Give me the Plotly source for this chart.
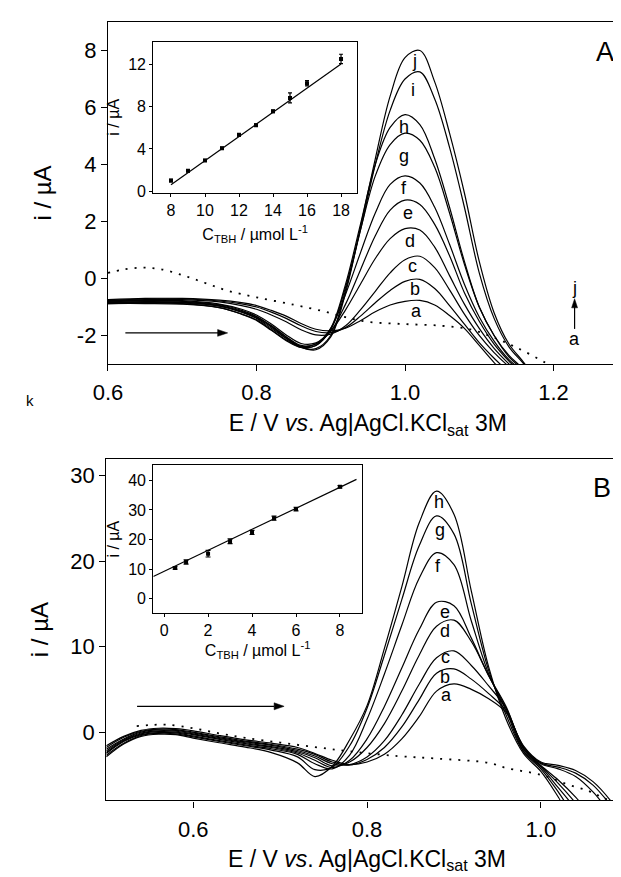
import plotly.graph_objects as go

# ---------------- Panel A data ----------------
XA = [0.60, 0.65, 0.70, 0.75, 0.78, 0.80, 0.82, 0.84, 0.86, 0.88, 0.90, 0.92, 0.94, 0.96, 0.98,
      1.00, 1.02, 1.04, 1.06, 1.08, 1.10, 1.12, 1.14, 1.16, 1.18, 1.20, 1.25, 1.28, 1.29, 1.30]
A_a = [-0.74, -0.70, -0.70, -0.76, -0.85, -0.95, -1.12, -1.32, -1.58, -1.78, -1.84, -1.74, -1.48, -1.17, -0.93,
       -0.80, -0.77, -0.93, -1.30, -1.75, -2.35, -2.95, -3.45, -4.0, -4.5, -5.0, -5.0, -4.4, -3.1, -1.9]
A_b = [-0.76, -0.72, -0.72, -0.79, -0.89, -1.00, -1.18, -1.40, -1.66, -1.86, -1.90, -1.72, -1.32, -0.85, -0.42,
       -0.10, -0.03, -0.35, -0.95, -1.60, -2.25, -2.80, -3.30, -3.9, -4.5, -5.0, -5.0, -4.4, -3.0, -1.8]
A_c = [-0.78, -0.74, -0.74, -0.82, -0.95, -1.08, -1.28, -1.52, -1.80, -1.98, -1.95, -1.66, -1.10, -0.45, 0.20,
       0.66, 0.78, 0.38, -0.40, -1.25, -2.00, -2.60, -3.10, -3.6, -4.3, -5.0, -5.0, -4.4, -3.0, -1.7]
A_d = [-0.80, -0.77, -0.78, -0.90, -1.08, -1.28, -1.60, -1.98, -2.28, -2.26, -1.85, -1.10, -0.20, 0.70, 1.40,
       1.75, 1.70, 1.10, 0.10, -0.90, -1.75, -2.45, -3.00, -3.5, -4.2, -5.0, -5.0, -4.4, -2.9, -1.6]
A_e = [-0.82, -0.79, -0.80, -0.92, -1.12, -1.33, -1.68, -2.05, -2.35, -2.30, -1.85, -0.90, 0.30, 1.50, 2.40,
       2.75, 2.60, 1.90, 0.80, -0.50, -1.50, -2.30, -2.90, -3.4, -4.1, -5.0, -5.0, -4.3, -2.9, -1.6]
A_f = [-0.84, -0.81, -0.83, -0.96, -1.18, -1.40, -1.75, -2.10, -2.38, -2.30, -1.75, -0.55, 0.90, 2.30, 3.30,
       3.60, 3.35, 2.50, 1.20, -0.20, -1.35, -2.20, -2.85, -3.3, -4.0, -5.0, -5.0, -4.3, -2.8, -1.5]
A_g = [-0.88, -0.86, -0.88, -1.02, -1.25, -1.47, -1.82, -2.18, -2.42, -2.35, -1.80, -0.30, 1.70, 3.60, 4.70,
       5.10, 4.85, 3.90, 2.30, 0.50, -1.00, -2.00, -2.75, -3.25, -4.0, -5.0, -5.0, -4.2, -2.8, -1.5]
A_h = [-0.88, -0.88, -0.90, -1.02, -1.25, -1.45, -1.80, -2.15, -2.40, -2.35, -1.75, -0.20, 1.90, 4.00, 5.30,
       5.75, 5.40, 4.20, 2.50, 0.60, -1.00, -2.00, -2.70, -3.2, -3.9, -5.0, -5.0, -4.2, -2.7, -1.4]
A_i = [-0.87, -0.85, -0.86, -0.97, -1.17, -1.38, -1.70, -2.10, -2.42, -2.46, -2.00, -0.40, 1.70, 4.00, 5.90,
       7.00, 7.25, 6.30, 4.60, 2.50, 0.20, -1.40, -2.40, -3.0, -3.7, -4.5, -5.0, -4.2, -2.7, -1.4]
A_j = [-0.85, -0.83, -0.84, -0.95, -1.15, -1.35, -1.65, -2.05, -2.40, -2.50, -2.05, -0.50, 1.80, 4.20, 6.40,
       7.75, 8.00, 6.90, 5.10, 3.00, 0.60, -1.20, -2.30, -2.95, -3.7, -4.5, -5.0, -4.2, -2.6, -1.3]
A_curves = [A_a, A_b, A_c, A_d, A_e, A_f, A_g, A_h, A_i, A_j]
A_names = ["a", "b", "c", "d", "e", "f", "g", "h", "i", "j"]

A_blank_x = [0.60, 0.62, 0.645, 0.67, 0.70, 0.73, 0.76, 0.80, 0.85, 0.89, 0.92, 0.95, 1.00, 1.05,
             1.09, 1.12, 1.15, 1.19, 1.21]
A_blank_y = [0.20, 0.31, 0.38, 0.33, 0.12, -0.15, -0.42, -0.66, -0.92, -1.15, -1.36, -1.52, -1.60, -1.66,
             -1.80, -2.08, -2.42, -2.97, -3.3]

# inset A
A_conc = [8, 9, 10, 11, 12, 13, 14, 15, 16, 18]
A_ip = [1.03, 1.94, 2.92, 4.08, 5.33, 6.24, 7.55, 8.81, 10.19, 12.48]
A_err = [0.12, 0.1, 0.1, 0.1, 0.12, 0.12, 0.12, 0.47, 0.25, 0.44]
A_fit_x = [8, 18]
A_fit_y = [0.63, 12.0]

# ---------------- Panel B data ----------------
XB = [0.50, 0.52, 0.54, 0.56, 0.58, 0.60, 0.63, 0.66, 0.69, 0.72, 0.74, 0.76, 0.78, 0.80, 0.82,
      0.84, 0.86, 0.88, 0.90, 0.92, 0.94, 0.96, 0.98, 1.00, 1.02, 1.04, 1.06, 1.08, 1.10]
B_a = [-1.6, -0.5, 0.2, 0.45, 0.4, 0.15, -0.4, -0.9, -1.3, -1.8, -2.5, -3.3, -3.8, -3.5, -2.6,
       -0.8, 1.8, 4.8, 5.65, 5.0, 3.9, 2.3, -1.6, -3.5, -3.9, -4.5, -5.8, -8.0, -11]
B_b = [-1.8, -0.6, 0.1, 0.35, 0.3, 0.0, -0.55, -1.05, -1.45, -2.0, -2.6, -3.5, -3.85, -3.2, -1.8,
       0.6, 3.8, 6.9, 7.4, 6.2, 4.5, 2.5, -1.7, -3.6, -4.1, -4.8, -6.2, -8.5, -11]
B_c = [-2.0, -0.8, 0.0, 0.25, 0.2, -0.1, -0.65, -1.15, -1.55, -2.15, -2.8, -3.7, -3.8, -2.9, -1.0,
       2.0, 5.6, 8.7, 9.5, 7.8, 5.4, 2.8, -1.8, -3.7, -4.3, -5.2, -7.0, -9.5, -12]
B_d = [-2.2, -0.9, -0.1, 0.15, 0.1, -0.2, -0.75, -1.25, -1.7, -2.3, -3.0, -3.95, -3.5, -1.8, 1.0,
       4.8, 9.0, 12.4, 13.1, 10.6, 6.6, 3.0, -1.9, -3.9, -5.6, -7.6, -10, -12, -12]
B_e = [-2.4, -1.0, -0.2, 0.05, 0.0, -0.3, -0.85, -1.35, -1.8, -2.45, -3.3, -4.15, -3.3, -0.8, 3.0,
       7.5, 12.0, 15.2, 14.8, 11.0, 6.6, 2.8, -2.0, -4.0, -6.0, -8.3, -11, -12, -12]
B_f = [-2.5, -1.1, -0.3, -0.05, -0.1, -0.45, -1.0, -1.5, -1.95, -2.6, -3.7, -4.3, -2.7, 1.5, 6.8,
       12.5, 18.0, 21.0, 19.6, 13.0, 6.8, 2.5, -2.2, -4.1, -6.5, -9.0, -12, -12, -12]
B_g = [-2.7, -1.3, -0.4, -0.15, -0.2, -0.55, -1.1, -1.6, -2.1, -2.9, -4.4, -4.1, -1.6, 2.8, 9.0,
       15.5, 21.8, 25.3, 23.2, 15.0, 7.2, 2.0, -2.3, -4.3, -7.0, -10, -12, -12, -12]
B_h = [-2.9, -1.4, -0.5, -0.25, -0.3, -0.7, -1.25, -1.75, -2.4, -3.6, -5.2, -4.0, -0.9, 3.1, 9.8,
       17.0, 24.5, 28.2, 25.5, 16.5, 7.6, 1.5, -2.5, -4.6, -7.6, -11, -12, -12, -12]
B_curves = [B_a, B_b, B_c, B_d, B_e, B_f, B_g, B_h]
B_names = ["a", "b", "c", "d", "e", "f", "g", "h"]

B_blank_x = [0.535, 0.55, 0.57, 0.60, 0.63, 0.66, 0.70, 0.74, 0.78, 0.835, 0.88, 0.94, 0.96, 1.00,
             1.03, 1.055, 1.07, 1.09]
B_blank_y = [0.70, 0.82, 0.87, 0.45, -0.15, -0.68, -1.22, -1.75, -2.25, -2.8, -3.1, -3.6, -4.2, -5.0,
             -6.1, -6.9, -7.6, -8.5]

# inset B
B_conc = [0.5, 1, 2, 3, 4, 5, 6, 8]
B_ip = [10.4, 12.4, 15.2, 19.4, 22.4, 27.2, 30.3, 37.8]
B_err = [0.4, 0.7, 1.1, 0.8, 0.7, 0.7, 0.6, 0.4]
B_fit_x = [-0.49, 8.75]
B_fit_y = [7.5, 40.3]

# tick labels
A_xticks = [0.6, 0.8, 1.0, 1.2]
A_xtext = ["0.6", "0.8", "1.0", "1.2"]
A_yticks = [-2, 0, 2, 4, 6, 8]
A_ytext = ["-2", "0", "2", "4", "6", "8"]
Ai_xticks = [8, 10, 12, 14, 16, 18]
Ai_yticks = [0, 4, 8, 12]
B_xticks = [0.6, 0.8, 1.0]
B_xtext = ["0.6", "0.8", "1.0"]
B_yticks = [0, 10, 20, 30]
Bi_xticks = [0, 2, 4, 6, 8]
Bi_yticks = [0, 10, 20, 30, 40]

# ---------------- figure ----------------
FONT = "Liberation Sans, Arial, sans-serif"
curve_line = dict(color="black", width=1.2, shape="spline", smoothing=1.0)
dot_line = dict(color="black", width=1.8, dash="2px,7px", shape="spline", smoothing=1.0)

fig = go.Figure()
for nm, ys in zip(A_names, A_curves):
    fig.add_trace(go.Scatter(x=XA, y=ys, mode="lines", line=curve_line, name="A " + nm,
                             xaxis="x", yaxis="y", showlegend=False, hoverinfo="skip"))
fig.add_trace(go.Scatter(x=A_blank_x, y=A_blank_y, mode="lines", line=dot_line, name="A blank",
                         xaxis="x", yaxis="y", showlegend=False, hoverinfo="skip"))
fig.add_trace(go.Scatter(x=A_fit_x, y=A_fit_y, mode="lines", line=dict(color="black", width=1.2),
                         xaxis="x2", yaxis="y2", showlegend=False, hoverinfo="skip"))
fig.add_trace(go.Scatter(x=A_conc, y=A_ip, mode="markers",
                         marker=dict(color="black", size=4, symbol="square"),
                         error_y=dict(type="data", array=A_err, color="black", thickness=1.2, width=2),
                         xaxis="x2", yaxis="y2", showlegend=False, hoverinfo="skip"))

for nm, ys in zip(B_names, B_curves):
    fig.add_trace(go.Scatter(x=XB, y=ys, mode="lines", line=curve_line, name="B " + nm,
                             xaxis="x3", yaxis="y3", showlegend=False, hoverinfo="skip"))
fig.add_trace(go.Scatter(x=B_blank_x, y=B_blank_y, mode="lines", line=dot_line, name="B blank",
                         xaxis="x3", yaxis="y3", showlegend=False, hoverinfo="skip"))
fig.add_trace(go.Scatter(x=B_fit_x, y=B_fit_y, mode="lines", line=dict(color="black", width=1.2),
                         xaxis="x4", yaxis="y4", showlegend=False, hoverinfo="skip"))
fig.add_trace(go.Scatter(x=B_conc, y=B_ip, mode="markers",
                         marker=dict(color="black", size=4, symbol="square"),
                         error_y=dict(type="data", array=B_err, color="black", thickness=1.2, width=2.5),
                         xaxis="x4", yaxis="y4", showlegend=False, hoverinfo="skip"))


def ax(**kw):
    d = dict(showline=True, mirror=True, linecolor="black", linewidth=1.3, showgrid=False,
             zeroline=False, ticks="outside", tickcolor="black", tickwidth=1.3, automargin=False,
             tickfont=dict(family=FONT, size=22, color="black"))
    d.update(kw)
    return d


XTITLE = "E / V <i>vs</i>. Ag|AgCl.KCl<sub>sat</sub> 3M"
YTITLE = "i / µA"
ITITLE = "C<sub>TBH</sub> / µmol L<sup>-1</sup>"
small = dict(family=FONT, size=16, color="black")
big_title = dict(family=FONT, size=23, color="black")

fig.update_layout(
    width=621, height=877, margin=dict(l=0, r=0, t=0, b=0),
    paper_bgcolor="white", plot_bgcolor="white",
    font=dict(family=FONT, color="black"),
    xaxis=ax(domain=[0.161, 0.998], range=[0.6, 1.3], anchor="y", ticklen=6,
             tickvals=A_xticks, ticktext=A_xtext, ticklabelstandoff=2,
             title=dict(text=XTITLE, font=big_title, standoff=11)),
    yaxis=ax(domain=[0.5941, 0.984], range=[-3, 9], anchor="x", ticklen=6,
             tickvals=A_yticks, ticktext=A_ytext,
             title=dict(text=YTITLE, font=dict(family=FONT, size=24), standoff=18)),
    xaxis2=ax(domain=[0.234, 0.562], range=[6.96, 18.94], anchor="y2", ticklen=3,
              tickvals=Ai_xticks, tickfont=small,
              title=dict(text=ITITLE, font=small, standoff=10)),
    yaxis2=ax(domain=[0.7896, 0.9612], range=[-0.1, 14.07], anchor="x2", ticklen=3,
              tickvals=Ai_yticks, tickfont=small,
              title=dict(text=YTITLE, font=small, standoff=4)),
    xaxis3=ax(domain=[0.1583, 0.998], range=[0.5, 1.1], anchor="y3", ticklen=6,
              tickvals=B_xticks, ticktext=B_xtext, ticklabelstandoff=3,
              title=dict(text=XTITLE, font=big_title, standoff=9)),
    yaxis3=ax(domain=[0.0964, 0.4861], range=[-8, 32], anchor="x3", ticklen=6,
              tickvals=B_yticks,
              title=dict(text=YTITLE, font=dict(family=FONT, size=24), standoff=14)),
    xaxis4=ax(domain=[0.234, 0.570], range=[-0.49, 9.0], anchor="y4", ticklen=3,
              tickvals=Bi_xticks, tickfont=small,
              title=dict(text=ITITLE, font=small, standoff=3)),
    yaxis4=ax(domain=[0.3101, 0.4786], range=[-4.83, 45.07], anchor="x4", ticklen=3,
              tickvals=Bi_yticks, tickfont=small,
              title=dict(text=YTITLE, font=small, standoff=4)),
)

lab = dict(family=FONT, size=18, color="black")
annots = []
A_lab_pos = [(1.016, -1.14), (1.013, -0.38), (1.010, 0.44), (1.007, 1.32), (1.004, 2.30),
             (0.999, 3.16), (0.999, 4.30), (0.999, 5.32), (1.011, 6.60), (1.013, 7.63)]
for nm, (lx, ly) in zip(A_names, A_lab_pos):
    annots.append(dict(x=lx, y=ly, xref="x", yref="y", text=nm, showarrow=False, font=lab))
B_lab_pos = [(0.891, 4.3), (0.890, 6.5), (0.890, 8.75), (0.890, 11.8), (0.890, 14.1),
             (0.8815, 19.4), (0.884, 23.7), (0.8823, 26.9)]
for nm, (lx, ly) in zip(B_names, B_lab_pos):
    annots.append(dict(x=lx, y=ly, xref="x3", yref="y3", text=nm, showarrow=False, font=lab))

annots += [
    dict(x=1.269, y=7.95, xref="x", yref="y", text="A", showarrow=False,
         font=dict(family=FONT, size=27, color="black")),
    dict(x=1.07, y=28.6, xref="x3", yref="y3", text="B", showarrow=False,
         font=dict(family=FONT, size=27, color="black")),
    dict(x=1.2284, y=-0.33, xref="x", yref="y", text="j", showarrow=False, font=lab),
    dict(x=1.2284, y=-2.12, xref="x", yref="y", text="a", showarrow=False, font=lab),
    dict(x=16 / 621, y=1 - 392 / 877, xref="paper", yref="paper", text="k", showarrow=False,
         font=dict(family=FONT, size=15, color="black")),
]
fig.update_layout(annotations=annots)

# arrows drawn as shapes (shaft + filled head)
blk = dict(color="black", width=1.2)
shapes = [
    # panel A scan-direction arrow
    dict(type="line", xref="x", yref="y", x0=0.6234, y0=-1.91, x1=0.750, y1=-1.91, line=blk),
    dict(type="path", xref="x", yref="y", path="M 0.7612 -1.91 L 0.7477 -1.79 L 0.7477 -2.03 Z",
         fillcolor="black", line=dict(color="black", width=0.5)),
    # panel A a->j arrow
    dict(type="line", xref="x", yref="y", x0=1.2284, y0=-1.77, x1=1.2284, y1=-1.0, line=blk),
    dict(type="path", xref="x", yref="y", path="M 1.2284 -0.71 L 1.2244 -1.03 L 1.2324 -1.03 Z",
         fillcolor="black", line=dict(color="black", width=0.5)),
    # panel B scan-direction arrow
    dict(type="line", xref="x3", yref="y3", x0=0.5354, y0=3.02, x1=0.693, y1=3.02, line=blk),
    dict(type="path", xref="x3", yref="y3", path="M 0.7046 3.02 L 0.6931 3.43 L 0.6931 2.61 Z",
         fillcolor="black", line=dict(color="black", width=0.5)),
]
fig.update_layout(shapes=shapes)

fig.write_html("out.html")
